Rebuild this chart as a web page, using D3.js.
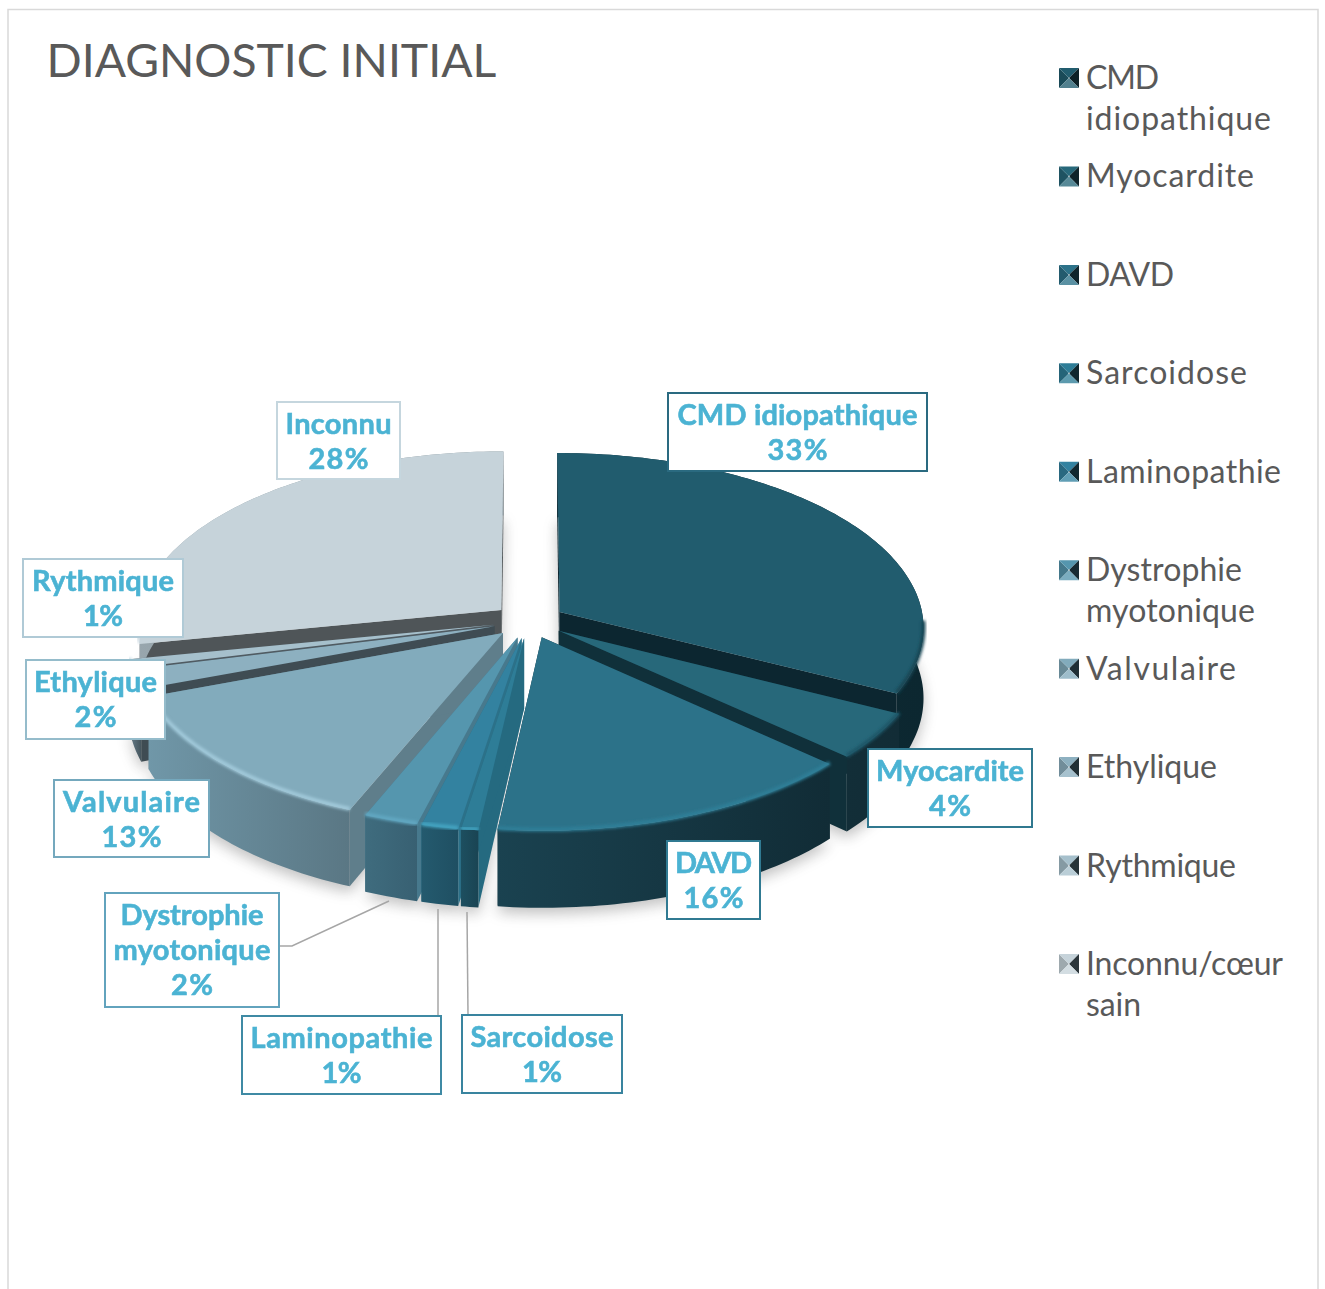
<!DOCTYPE html>
<html>
<head>
<meta charset="utf-8">
<script src="https://cdnjs.cloudflare.com/ajax/libs/d3/7.8.5/d3.min.js"></script>
<style>
  html, body { margin: 0; padding: 0; background: #fff; }
  svg { display: block; }
  text { font-family: Lato, "Open Sans", sans-serif; }
</style>
</head>
<body>
<svg width="1325" height="1289"></svg>
<script>
// values, in drawing order round the pie
const categories = ["CMD idiopathique", "Myocardite", "DAVD", "Sarcoidose", "Laminopathie",
  "Dystrophie myotonique", "Valvulaire", "Ethylique", "Rythmique", "Inconnu"];
const values = [32.5, 4.3, 15, 0.7, 1.5, 2.2, 13.1, 1.8, 0.8, 28.1];
const percentLabels = ["33%", "4%", "16%", "1%", "1%", "2%", "13%", "2%", "1%", "28%"];
const labelLines = [["CMD idiopathique"], ["Myocardite"], ["DAVD"], ["Sarcoidose"], ["Laminopathie"],
  ["Dystrophie", "myotonique"], ["Valvulaire"], ["Ethylique"], ["Rythmique"], ["Inconnu"]];
const legendRows = [["CMD", "idiopathique"], ["Myocardite"], ["DAVD"], ["Sarcoidose"], ["Laminopathie"],
  ["Dystrophie", "myotonique"], ["Valvulaire"], ["Ethylique"], ["Rythmique"], ["Inconnu/cœur", "sain"]];

// slice colours
const topColors = ["#215c6e", "#27687a", "#2c7289", "#2e7d97", "#3382a0", "#5596ae", "#82abbc", "#8db0c0", "#a6c0cc", "#c6d3da"];
const cutColors = ["#0c2630", "#10303a", "#133039", "#256a80", "#2c7189", "#47798d", "#5f7e8b", "#3f4c53", "#505b62", "#4f5558"];
const wallLeft = ["#0f2f3a", "#122e38", "#1a4250", "#1d4f60", "#245a6e", "#3f6c7e", "#7097a8", "#5f7480", "#7f8f98", "#98a6ad"];
const wallRight = ["#0c2730", "#122c36", "#112c36", "#1a4453", "#1f4f62", "#386072", "#5a7784", "#45555d", "#5f6d75", "#7d8a90"];
const rimColors = ["#174552", "#1f5566", "#2f7f98", "#3fa0bd", "#45a5c2", "#62a8c2", "#a2cadb", "#a0c6d6", "#bcd4de", "#d5e0e6"];
const boxColors = ["#2a6a80", "#30788f", "#307a92", "#39849f", "#3f8aa4", "#62a3bd", "#74a8bd", "#95bccb", "#b0cad6", "#c5d6de"];

// label box corners, same order as categories
const labelBoxes = [
  [668, 393, 927, 471], [868, 749, 1032, 827], [667, 841, 760, 919], [462, 1015, 622, 1093],
  [242, 1016, 441, 1094], [105, 893, 279, 1007], [54, 780, 209, 857], [26, 660, 165, 739],
  [23, 559, 183, 637], [277, 402, 400, 479]
];
// text widths measured in the picture
const labelWidths = [[240, 60], [148, 42], [77, 60], [143, 40], [182, 40],
  [143, 157, 42], [137, 60], [123, 42], [142, 40], [106, 60]];
const legendWidths = [[73, 185], [168], [88], [161], [195], [156, 169], [150], [131], [150], [197, 55]];

const leaders = [
  [[279, 946], [292, 946], [389, 901]],
  [[438, 1016], [438, 909]],
  [[468, 1015], [467, 912]]
];

var svg = d3.select("svg");
var defs = svg.append("defs");

defs.append("filter").attr("id", "shadowBlur")
  .attr("x", "-20%").attr("y", "-20%").attr("width", "140%").attr("height", "140%")
  .append("feGaussianBlur").attr("stdDeviation", 7);
defs.append("filter").attr("id", "rimBlur")
  .attr("x", "-10%").attr("y", "-30%").attr("width", "120%").attr("height", "160%")
  .append("feGaussianBlur").attr("stdDeviation", 1.6);

// chart frame, open at the bottom
svg.append("path")
  .attr("d", "M8,1289V9.5H1318V1289")
  .attr("fill", "none")
  .attr("stroke", "#d9d9d9")
  .attr("stroke-width", 1.5);

svg.append("text")
  .attr("x", 46.5).attr("y", 77)
  .attr("font-size", 46.3)
  .attr("font-weight", 400)
  .attr("fill", "#595959")
  .text("DIAGNOSTIC INITIAL");

// ---- pie in a small perspective ----
var cx = 529, cy = 621, rx = 364, ry = 174, persp = 0.085, thick = 70, explode = 0.099;

var pie = d3.pie().sort(null).value(d => d);
var slices = pie(values).map(function (d, i) {
  var mid = (d.startAngle + d.endAngle) / 2;
  return {
    i: i,
    a0: d.startAngle,
    a1: d.endAngle,
    ou: explode * Math.sin(mid),
    ov: -explode * Math.cos(mid),
    depth: -Math.cos(mid)
  };
});

function project(u, v, z) {
  var s = 1 / (1 - persp * v);
  return [cx + rx * u * s, cy + (ry * v + thick * z) * s];
}

function arcAngles(d) {
  var n = Math.max(4, Math.ceil((d.a1 - d.a0) / 0.02));
  return d3.range(n + 1).map(k => d.a0 + (d.a1 - d.a0) * k / n);
}
function arcPoints(d, z) {
  return arcAngles(d).map(a => project(d.ou + Math.sin(a), d.ov - Math.cos(a), z));
}
function apex(d, z) { return project(d.ou, d.ov, z); }

var line = d3.line();
var polygon = d3.line().curve(d3.curveLinearClosed);

// soft shadow: the footprint of every slice
svg.append("g")
  .attr("filter", "url(#shadowBlur)")
  .attr("opacity", 0.36)
  .selectAll("path")
  .data(slices)
  .enter()
  .append("path")
  .attr("transform", "translate(0,6)")
  .attr("fill", "#555")
  .attr("d", d => polygon([apex(d, 1)].concat(arcPoints(d, 1))));

slices.forEach(function (d) {
  var grad = defs.append("linearGradient").attr("id", "wall" + d.i);
  grad.append("stop").attr("offset", "0%").attr("stop-color", wallLeft[d.i]);
  grad.append("stop").attr("offset", "100%").attr("stop-color", wallRight[d.i]);
});

var drawOrder = slices.slice().sort((a, b) => d3.ascending(a.depth, b.depth));

var groups = svg.append("g")
  .selectAll("g")
  .data(drawOrder)
  .enter()
  .append("g")
  .attr("class", "slice");

// cut faces at both radial edges
groups.append("path")
  .attr("fill", d => cutColors[d.i])
  .attr("d", function (d) {
    var t = arcPoints(d, 0), b = arcPoints(d, 1);
    return polygon([apex(d, 0), t[0], b[0], apex(d, 1)]);
  });
groups.append("path")
  .attr("fill", d => cutColors[d.i])
  .attr("d", function (d) {
    var t = arcPoints(d, 0), b = arcPoints(d, 1);
    return polygon([apex(d, 0), t[t.length - 1], b[b.length - 1], apex(d, 1)]);
  });
// outer wall
groups.append("path")
  .attr("fill", d => "url(#wall" + d.i + ")")
  .attr("d", d => polygon(arcPoints(d, 0).concat(arcPoints(d, 1).reverse())));
// top
groups.append("path")
  .attr("fill", d => topColors[d.i])
  .attr("d", d => polygon([apex(d, 0)].concat(arcPoints(d, 0))));
// bevel highlight along the front of the rim only
groups.append("path")
  .attr("fill", "none")
  .attr("stroke", d => rimColors[d.i])
  .attr("stroke-width", 4)
  .attr("filter", "url(#rimBlur)")
  .attr("d", function (d) {
    var front = arcAngles(d).filter(a => Math.cos(a) < -0.05);
    return line(front.map(function (a) {
      var p = project(d.ou + Math.sin(a), d.ov - Math.cos(a), 0);
      return [p[0], p[1] - 1];
    }));
  });

// ---- leader lines ----
svg.append("g")
  .selectAll("path")
  .data(leaders)
  .enter()
  .append("path")
  .attr("fill", "none")
  .attr("stroke", "#a6a6a6")
  .attr("stroke-width", 1.5)
  .attr("d", d => line(d));

// ---- data labels ----
var labels = svg.append("g")
  .selectAll("g")
  .data(categories)
  .enter()
  .append("g")
  .attr("class", "label");

labels.append("rect")
  .attr("x", (d, i) => labelBoxes[i][0])
  .attr("y", (d, i) => labelBoxes[i][1])
  .attr("width", (d, i) => labelBoxes[i][2] - labelBoxes[i][0])
  .attr("height", (d, i) => labelBoxes[i][3] - labelBoxes[i][1])
  .attr("fill", "#fff")
  .attr("stroke", (d, i) => boxColors[i])
  .attr("stroke-width", 2);

labels.each(function (d, i) {
  var box = labelBoxes[i];
  var rows = labelLines[i].concat(percentLabels[i]);
  d3.select(this).selectAll("text")
    .data(rows)
    .enter()
    .append("text")
    .attr("x", (box[0] + box[2]) / 2)
    .attr("y", (r, k) => box[1] + 32 + k * 35)
    .attr("text-anchor", "middle")
    .attr("font-size", 29)
    .attr("font-weight", 700)
    .attr("textLength", (r, k) => labelWidths[i][k])
    .attr("lengthAdjust", "spacing")
    .attr("fill", "#4bb3d3")
    .attr("stroke", "#4bb3d3")
    .attr("stroke-width", 0.6)
    .text(r => r);
});

// ---- legend ----
var legendY = d3.scaleLinear().domain([0, legendRows.length - 1]).range([78, 964]);
var legend = svg.append("g")
  .selectAll("g")
  .data(legendRows)
  .enter()
  .append("g")
  .attr("class", "legend-item")
  .attr("transform", (d, i) => "translate(1059," + legendY(i) + ")");

// bevelled marker, four facets meeting near the centre
var m = 10, inner = 0.6;
var facets = [
  { pts: [[-m, m], [-m, -m], [-inner, -inner], [-inner, inner]], col: c => d3.interpolateRgb(c, "#000")(0.2) },
  { pts: [[-m, -m], [m, -m], [inner, -inner], [-inner, -inner]], col: c => c },
  { pts: [[m, -m], [m, m], [inner, inner], [inner, -inner]], col: c => d3.interpolateRgb(c, "#0a1418")(0.82) },
  { pts: [[m, m], [-m, m], [-inner, inner], [inner, inner]], col: c => d3.interpolateRgb(c, "#fff")(0.22) }
];
legend.each(function (rows, i) {
  var g = d3.select(this).append("g").attr("transform", "translate(" + m + ",0)");
  g.selectAll("path")
    .data(facets)
    .enter()
    .append("path")
    .attr("d", f => polygon(f.pts))
    .attr("fill", f => f.col(topColors[i]));
  d3.select(this).selectAll("text")
    .data(rows)
    .enter()
    .append("text")
    .attr("x", 27)
    .attr("y", (r, k) => 11 + k * 41)
    .attr("font-size", 32)
    .attr("fill", "#595959")
    .attr("textLength", (r, k) => legendWidths[i][k])
    .attr("lengthAdjust", "spacing")
    .text(r => r);
});
</script>
</body>
</html>
